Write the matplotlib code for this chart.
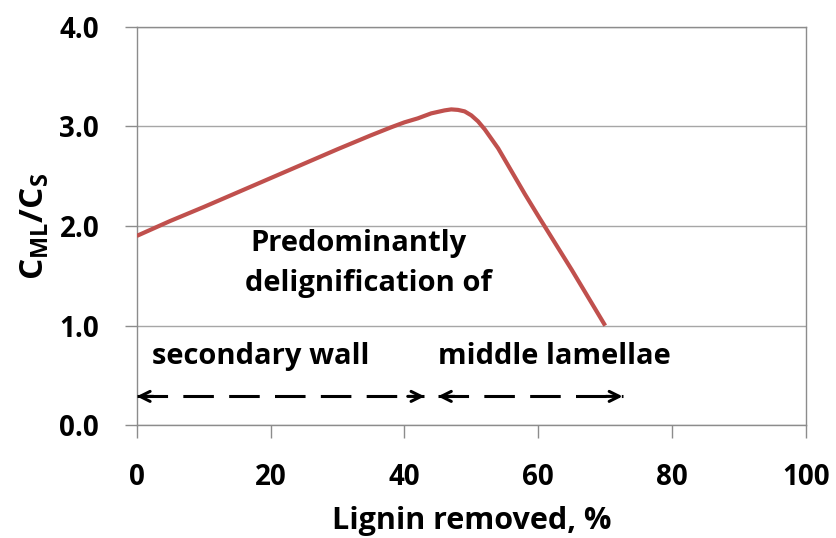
import matplotlib
matplotlib.use('Agg')
import matplotlib.pyplot as plt

# data
lignin = [0, 5, 10, 20, 30, 35, 38, 40, 42, 44, 46, 47, 48, 49, 50, 51, 52, 54, 56, 58, 60, 65, 70]
ratio = [1.90, 2.05, 2.19, 2.48, 2.77, 2.91, 2.99, 3.04, 3.08, 3.13, 3.16, 3.17, 3.165, 3.15, 3.11, 3.05, 2.97, 2.78, 2.55, 2.32, 2.10, 1.56, 1.00]
xticks = [0, 20, 40, 60, 80, 100]
yticks = [0.0, 1.0, 2.0, 3.0, 4.0]
sw_range = [0, 43]
ml_range = [45, 72.6]
arrow_y = 0.29

plt.rcParams['font.family'] = ['Open Sans', 'DejaVu Sans']
plt.rcParams['font.weight'] = 'bold'
plt.rcParams['mathtext.fontset'] = 'custom'
plt.rcParams['mathtext.rm'] = 'Open Sans:bold'
plt.rcParams['mathtext.it'] = 'Open Sans:bold'
plt.rcParams['mathtext.bf'] = 'Open Sans:bold'

fig = plt.figure(figsize=(8.36, 5.38), dpi=100)
ax = fig.add_axes([0.1635, 0.2095, 0.8006, 0.7409])

grey = '#8c8c8c'
ax.plot(lignin, ratio, color='#C0504D', lw=3.0, solid_capstyle='butt', zorder=3)

ax.set_xlim(0, 100)
ax.set_ylim(0, 4)
ax.set_xticks(xticks)
ax.set_yticks(yticks)
ax.set_yticklabels(['%.1f' % v for v in yticks])
ax.yaxis.grid(True, color='#a6a6a6', lw=1.0)
ax.set_axisbelow(True)
for s in ax.spines.values():
    s.set_color(grey)
    s.set_linewidth(1.0)
ax.tick_params(axis='both', direction='out', length=9, width=1.0, color=grey,
               labelsize=20)
ax.tick_params(axis='x', pad=18)
ax.tick_params(axis='y', pad=18)

ax.set_xlabel('Lignin removed, %', fontsize=22, fontweight='bold', labelpad=10)
ax.set_ylabel(r'C$_{\rm ML}$/C$_{\rm S}$', fontsize=24, fontweight='bold', labelpad=6)

fs = 21
ax.text(33.2, 1.82, 'Predominantly', ha='center', va='center', fontsize=fs, fontweight='bold')
ax.text(34.7, 1.42, 'delignification of', ha='center', va='center', fontsize=fs, fontweight='bold')
ax.text(18.5, 0.69, 'secondary wall', ha='center', va='center', fontsize=fs, fontweight='bold')
ax.text(62.4, 0.69, 'middle lamellae', ha='center', va='center', fontsize=fs, fontweight='bold')

for r in (sw_range, ml_range):
    ax.plot(r, [arrow_y, arrow_y], color='black', lw=2.2, dashes=(10, 5), zorder=4)
    for a, b in ((r[0] + 2.5, r[0]), (r[1] - 2.5, r[1])):
        ax.annotate('', xy=(b, arrow_y), xytext=(a, arrow_y),
                    arrowprops=dict(arrowstyle='->', color='black', lw=2.2,
                                    mutation_scale=18, shrinkA=0, shrinkB=0),
                    annotation_clip=False, zorder=5)

fig.savefig('out.png', dpi=100)
